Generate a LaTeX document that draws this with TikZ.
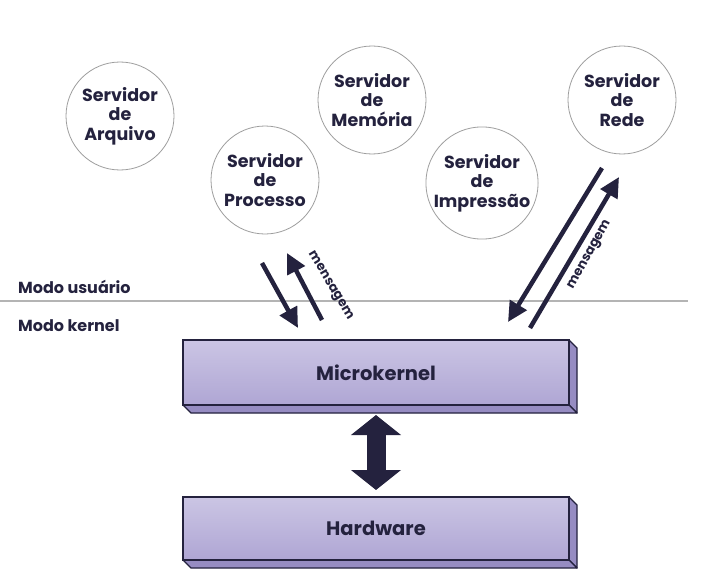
\documentclass[tikz,border=0pt]{standalone}
\usepackage{fontspec}
\setmainfont{Poppins}
\usetikzlibrary{arrows.meta,positioning}
\definecolor{osNavy}{HTML}{24223E}
\definecolor{osRing}{HTML}{9E9E9E}
\definecolor{osRule}{HTML}{B4B4B4}
\definecolor{osLilacTop}{HTML}{CBC5E4}
\definecolor{osLilac}{HTML}{AFA6D4}
\definecolor{osLilacSide}{HTML}{968CC2}
\tikzset{
  serverNode/.style={
    circle,
    draw=osRing,
    thick,
    fill=white,
    minimum size=108pt,
    inner sep=0pt,
    align=center,
    font=\bfseries\fontsize{17.5}{19.5}\selectfont,
    text=osNavy
  },
  layerBox/.style={
    draw=osNavy,
    line width=1.3pt,
    top color=osLilacTop,
    bottom color=osLilac,
    minimum width=386pt,
    minimum height=65pt,
    outer sep=0pt,
    font=\bfseries\fontsize{19.5}{22}\selectfont,
    text=osNavy
  },
  layerSide/.style={draw=osNavy, line width=1.3pt, fill=osLilacSide, line join=round},
  modeLabel/.style={anchor=west, font=\bfseries\fontsize{16}{19}\selectfont, text=osNavy, inner sep=0pt},
  msgArrow/.style={osNavy, line width=4.5pt, -{Triangle[length=20pt, width=19pt]}},
  msgLabel/.style={font=\bfseries\fontsize{13}{15}\selectfont, text=osNavy, inner sep=1pt},
  busArrow/.style={osNavy, line width=19pt, {Triangle[length=20pt, width=49pt]}-{Triangle[length=20pt, width=49pt]}}
}
\begin{document}
\begin{tikzpicture}[x=1pt,y=-1pt]
  \useasboundingbox (0,0) rectangle (703,583);

  % servers in user mode
  \node[serverNode] (arquivo) at (120,116) {Servidor\\de\\Arquivo};
  \node[serverNode] (memoria) at (372,100) {Servidor\\de\\Memória};
  \node[serverNode] (rede) at (622,100) {Servidor\\de\\Rede};
  \node[serverNode] (processo) at (265,180) {Servidor\\de\\Processo};
  \node[serverNode] (impressao) at (482,183) {Servidor\\de\\Impressão};

  % user / kernel boundary
  \coordinate (ruleL) at (0,301);
  \coordinate (ruleR) at (688,301);
  \draw[osRule, line width=1.5pt] (ruleL) -- (ruleR);
  \node[modeLabel] (usuario) at (18,287) {Modo usuário};
  \node[modeLabel] (kernel) at (18,326) {Modo kernel};

  % layers
  \fill[layerSide] (376,372.5) ++(193,-32.5) -- ++(8,8) -- ++(0,65) -- ++(-8,-8) -- cycle;
  \fill[layerSide] (376,372.5) ++(-193,32.5) -- ++(8,8) -- ++(386,0) -- ++(-8,-8) -- cycle;
  \node[layerBox] (mk) at (376,372.5) {Microkernel};

  \fill[layerSide] (376,528.5) ++(193,-31.5) -- ++(8,8) -- ++(0,63) -- ++(-8,-8) -- cycle;
  \fill[layerSide] (376,528.5) ++(-193,31.5) -- ++(8,8) -- ++(386,0) -- ++(-8,-8) -- cycle;
  \node[layerBox, minimum height=63pt] (hw) at (376,528.5) {Hardware};

  \draw[busArrow] ([yshift=-10pt]mk.south) -- ([yshift=7pt]hw.north);

  % messages
  \coordinate (pDownA) at (262,263);
  \coordinate (pDownB) at (298,328);
  \coordinate (pUpA) at (322,320);
  \coordinate (pUpB) at (287,253);
  \draw[msgArrow] (pDownA) -- (pDownB);
  \draw[msgArrow] (pUpA) -- (pUpB);
  \node[msgLabel, rotate=-59] (msgP) at (330,286) {mensagem};

  \coordinate (rDownA) at (602,168);
  \coordinate (rDownB) at (508,322);
  \coordinate (rUpA) at (530,328);
  \coordinate (rUpB) at (619,177);
  \draw[msgArrow] (rDownA) -- (rDownB);
  \draw[msgArrow] (rUpA) -- (rUpB);
  \node[msgLabel, rotate=61] (msgR) at (590,255) {mensagem};
\end{tikzpicture}
\end{document}
